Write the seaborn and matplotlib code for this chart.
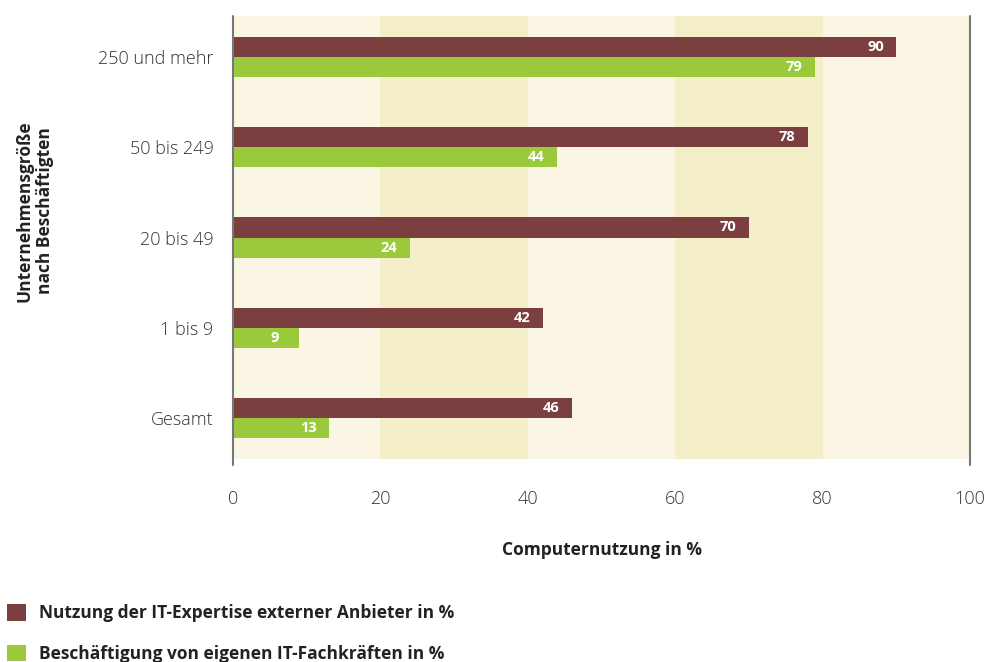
import matplotlib
matplotlib.use("Agg")
import matplotlib.pyplot as plt
import seaborn as sns
import pandas as pd
from matplotlib.patches import Patch

categories = ["250 und mehr", "50 bis 249", "20 bis 49", "1 bis 9", "Gesamt"]
series_names = ["Nutzung der IT-Expertise externer Anbieter in %",
                "Beschäftigung von eigenen IT-Fachkräften in %"]
extern = [90, 78, 70, 42, 46]
eigen = [79, 44, 24, 9, 13]
x_ticks = [0, 20, 40, 60, 80, 100]

colors = ["#7b3f3f", "#9aca3c"]

df = pd.DataFrame({
    "Kategorie": categories * 2,
    "Serie": [series_names[0]] * len(categories) + [series_names[1]] * len(categories),
    "Wert": extern + eigen,
})

sns.set_theme(style="white")
plt.rcParams["font.family"] = ["Open Sans", "DejaVu Sans"]

fig = plt.figure(figsize=(9.85, 6.62), dpi=100)
ax = fig.add_axes([233 / 985, 1 - 459 / 662, (970 - 233) / 985, (459 - 16) / 662])

# background stripes
stripe_colors = ["#faf6e3", "#f4efc8"]
for i in range(5):
    ax.axvspan(x_ticks[i], x_ticks[i + 1], color=stripe_colors[i % 2], zorder=0, lw=0)

sns.barplot(data=df, y="Kategorie", x="Wert", hue="Serie", order=categories,
            hue_order=series_names, palette=colors, width=0.445, orient="h",
            saturation=1, ax=ax, legend=False, zorder=3, linewidth=0, edgecolor="none")

for container in ax.containers:
    labels = [f"{v:.0f}" for v in container.datavalues]
    ax.bar_label(container, labels=labels, padding=-21, color="white",
                 fontsize=10.5, fontweight="bold", label_type="edge")

ax.set_xlim(0, 100)
ax.set_ylim(4.455, -0.455)
ax.set_xticks(x_ticks)
ax.set_xticklabels([str(t) for t in x_ticks], fontsize=13, fontweight="light", color="#333333")
ax.tick_params(axis="x", length=0, pad=22)
ax.tick_params(axis="y", length=0, pad=14)
for lbl in ax.get_yticklabels():
    lbl.set_fontsize(13)
    lbl.set_fontweight("light")
    lbl.set_color("#333333")

for s in ["top", "bottom", "left", "right"]:
    ax.spines[s].set_visible(False)
for xv in [0, 100]:
    ax.plot([xv, xv], [-0.455, 4.52], color="#777777", lw=1.5, clip_on=False, zorder=5)

ax.set_xlabel("Computernutzung in %", fontsize=12.5, fontweight="bold", color="#222222")
ax.xaxis.set_label_coords(0.5, -0.185)
ax.set_ylabel("Unternehmensgröße\nnach Beschäftigten", fontsize=12.5, fontweight="bold",
              color="#222222")
ax.yaxis.set_label_coords(-0.243, 0.56)

handles = [Patch(facecolor=c, edgecolor="none") for c in colors]
fig.legend(handles, series_names, loc="lower left", bbox_to_anchor=(-0.009, -0.025),
           frameon=False, prop={"family": ["Open Sans", "DejaVu Sans"], "weight": "bold", "size": 12.5},
           handlelength=1.1, handleheight=1.1, handletextpad=0.75, labelspacing=1.3,
           labelcolor="#222222")

fig.savefig("out.png", dpi=100)
